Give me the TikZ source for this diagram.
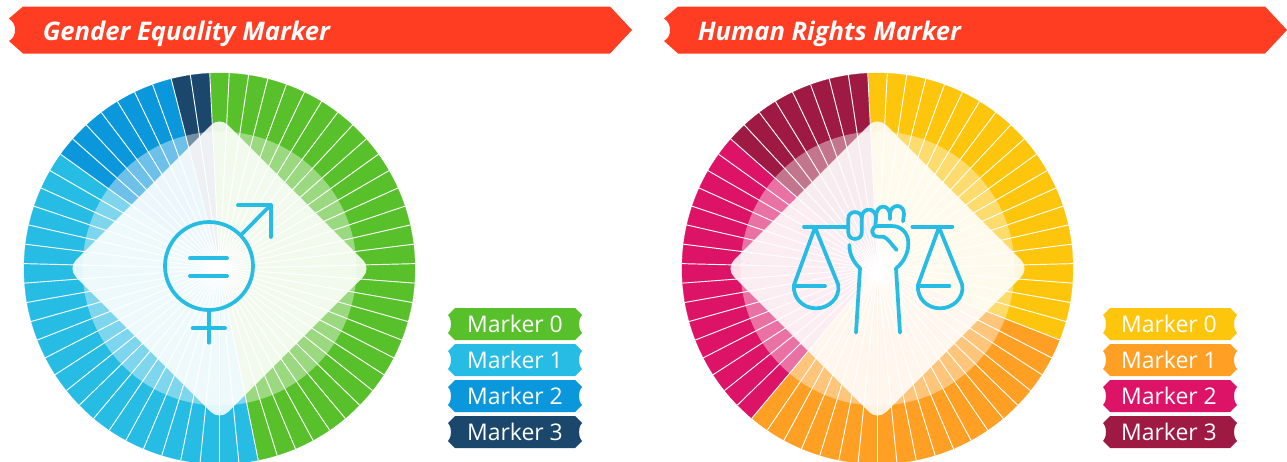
\documentclass[tikz,border=0pt]{standalone}
\usepackage{fontspec}
\setmainfont{Open Sans}
\definecolor{banner}{HTML}{FF3D22}
\definecolor{ggreen}{HTML}{58C02B}
\definecolor{glight}{HTML}{27BCE4}
\definecolor{gmid}{HTML}{0B97DB}
\definecolor{gnavy}{HTML}{1A476B}
\definecolor{hyellow}{HTML}{FDC50C}
\definecolor{horange}{HTML}{FF9F24}
\definecolor{hpink}{HTML}{DD1367}
\definecolor{hdark}{HTML}{9E1A43}
\tikzset{
  icon/.style={draw=glight,line width=2.8pt,line cap=round,line join=round,fill=none},
  titletext/.style={text=white,anchor=base west,inner sep=0pt,font=\fontsize{19.2}{23}\selectfont\bfseries\itshape},
  legendtext/.style={text=white,anchor=base,inner sep=0pt,font=\fontsize{17.2}{20}\selectfont},
  spoke/.style={draw=white,line width=0.7pt}
}
\newcommand{\bannershape}[1]{%
  \fill[banner] (#1+14,6.5) -- (#1+601,6.5) -- (#1+623,30) -- (#1+601,53.5) -- (#1+14,53.5) -- (#1,41)
    .. controls (#1+5,38) and (#1+6,34) .. (#1+6,30)
    .. controls (#1+6,26) and (#1+5,22) .. (#1,18.5) -- cycle;}
\newcommand{\pill}[3]{%
  \fill[#3] (#1+7,#2-16) -- (#1+127,#2-16) -- (#1+134,#2-9)
    .. controls (#1+131.5,#2-6) and (#1+131,#2-3) .. (#1+131,#2)
    .. controls (#1+131,#2+3) and (#1+131.5,#2+6) .. (#1+134,#2+9)
    -- (#1+127,#2+16) -- (#1+7,#2+16) -- (#1,#2+9)
    .. controls (#1+2.5,#2+6) and (#1+3,#2+3) .. (#1+3,#2)
    .. controls (#1+3,#2-3) and (#1+2.5,#2-6) .. (#1,#2-9) -- cycle;}
\newcommand{\wheel}[8]{%
  \begin{scope}[shift={(#1,268.5)}]
    \foreach \i in {0,...,62}{
      \pgfmathsetmacro{\sa}{-92.857+\i*5.7143}
      \pgfmathsetmacro{\ea}{\sa+5.7143}
      \ifnum\i<#2 \def\col{#3}\else\ifnum\i<#4 \def\col{#5}\else\ifnum\i<#6 \def\col{#7}\else\def\col{#8}\fi\fi\fi
      \fill[\col,draw=\col,line width=0.2pt] (0,0) -- (\sa:195.5) arc[start angle=\sa,end angle=\ea,radius=195.5] -- cycle;
    }
    \foreach \i in {0,...,62}{
      \pgfmathsetmacro{\sa}{-92.857+\i*5.7143}
      \draw[spoke] (0,0) -- (\sa:195.8);
    }
    \fill[white,opacity=0.4] (0,0) circle[radius=137];
    \fill[white,opacity=0.875,rounded corners=9pt] (76,-76) -- (152,0) -- (0,152) -- (-152,0) -- (0,-152) -- cycle;
  \end{scope}}
\begin{document}
\begin{tikzpicture}[x=0.75pt,y=-0.75pt]
\useasboundingbox (0,0) rectangle (1287,461);
\fill[white] (0,0) rectangle (1287,461);

\bannershape{9}
\bannershape{664}
\node[titletext] (title1) at (42.5,40) {Gender Equality Marker};
\node[titletext] (title2) at (697.5,40) {Human Rights Marker};

\wheel{219.5}{30}{ggreen}{54}{glight}{61}{gmid}{gnavy}
\wheel{877.5}{20}{hyellow}{39}{horange}{55}{hpink}{hdark}

% gender icon
\draw[icon] (209,266) circle[radius=44];
\draw[icon] (190,258.3) -- (227,258.3);
\draw[icon] (190,276) -- (227,276);
\draw[icon] (208.7,310) -- (208.7,342.7);
\draw[icon] (192.7,328.3) -- (225,328.3);
\draw[icon] (241.7,234.3) -- (270.7,205);
\draw[icon] (238,205) -- (270.7,205) -- (270.7,237);

% human rights icon
\begin{scope}[shift={(780,190)},x=0.25pt,y=-0.25pt]
  \draw[icon] (72,110) -- (205,110);
  \draw[icon] (105,112) -- (42,285) .. controls (38,325) and (70,355) .. (108,355)
     .. controls (146,355) and (180,325) .. (175,285) -- (105,112);
  \draw[icon] (42,288) -- (135,288);
  \draw[icon] (397,110) -- (517,110);
  \draw[icon] (477,112) -- (414,285) .. controls (410,325) and (442,355) .. (480,355)
     .. controls (518,355) and (552,325) .. (547,285) -- (477,112);
  \draw[icon] (414,288) -- (508,288);
  \draw[icon] (228,428) -- (240,235) .. controls (222,218) and (208,195) .. (208,165);
  \draw[icon] (360,428) -- (348,235) .. controls (370,218) and (385,190) .. (385,160)
     .. controls (385,130) and (365,108) .. (335,108) -- (295,108)
     .. controls (270,108) and (270,140) .. (295,140) -- (310,140)
     .. controls (325,145) and (335,165) .. (350,180);
  \draw[icon] (205,85) .. controls (205,60) and (245,60) .. (245,85) -- (245,128)
     .. controls (245,153) and (205,153) .. (205,128) -- cycle;
  \draw[icon] (245,85) .. controls (245,50) and (288,50) .. (288,85) -- (286,108);
  \draw[icon] (288,80) .. controls (288,40) and (330,40) .. (330,78) -- (330,88);
  \draw[icon] (330,72) .. controls (332,40) and (372,40) .. (372,72) -- (369,94);
\end{scope}

% legends
\pill{448}{324}{ggreen}
\pill{448}{360}{glight}
\pill{448}{396}{gmid}
\pill{448}{432}{gnavy}
\node[legendtext] (l0) at (515,332) {Marker 0};
\node[legendtext] (l1) at (515,368) {Marker 1};
\node[legendtext] (l2) at (515,404) {Marker 2};
\node[legendtext] (l3) at (515,440) {Marker 3};
\pill{1103}{324}{hyellow}
\pill{1103}{360}{horange}
\pill{1103}{396}{hpink}
\pill{1103}{432}{hdark}
\node[legendtext] (r0) at (1169,332) {Marker 0};
\node[legendtext] (r1) at (1169,368) {Marker 1};
\node[legendtext] (r2) at (1169,404) {Marker 2};
\node[legendtext] (r3) at (1169,440) {Marker 3};
\end{tikzpicture}
\end{document}
